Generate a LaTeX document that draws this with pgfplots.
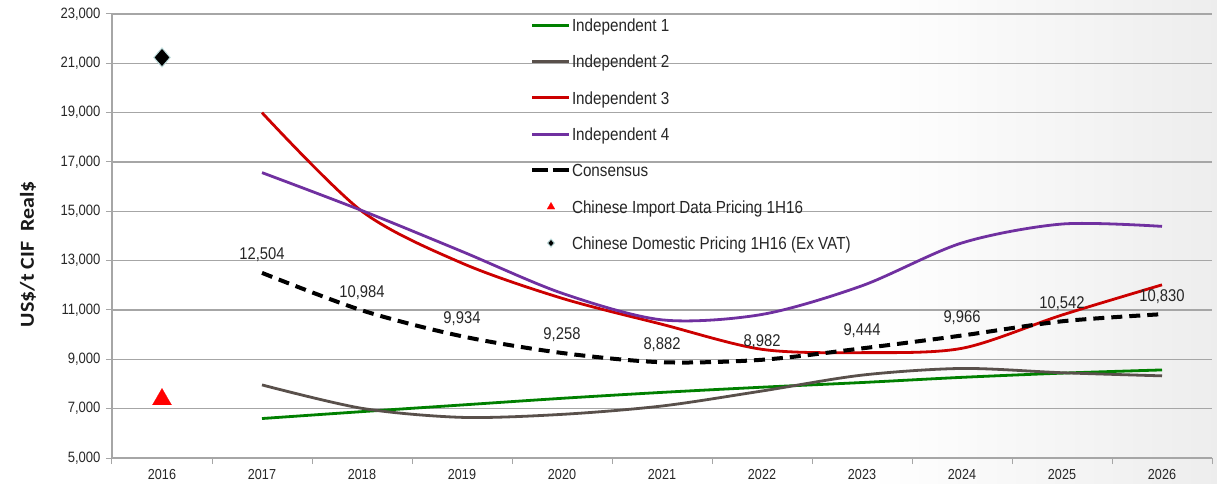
\documentclass[border=0pt]{standalone}
\usepackage{pgfplots}
\pgfplotsset{compat=1.18}
\usepackage{fontspec}
\setmainfont{Liberation Sans}[FakeStretch=0.87]
\newfontfamily\ylabfont{Carlito}
\definecolor{gridgray}{RGB}{166,166,166}
\definecolor{ind1}{RGB}{0,128,0}
\definecolor{ind2}{RGB}{89,80,75}
\definecolor{ind3}{RGB}{204,0,0}
\definecolor{ind4}{RGB}{112,48,160}
\definecolor{txt}{RGB}{38,38,38}
\definecolor{dmdedge}{RGB}{190,220,220}
\pgfplotsset{
  markleg/.style={legend image code/.code={\draw[##1, mark size=#1] plot coordinates {(19pt,0pt)};}},
  dashleg/.style={legend image code/.code={\draw[black, line width=4pt, dash pattern=on 16pt off 4.5pt] (0pt,0pt) -- (37pt,0pt);}},
}
\begin{document}
\begin{tikzpicture}
\shade[left color=white, right color=black!7] (758pt,-26pt) rectangle (1105pt,458pt);
\begin{axis}[
  scale only axis, width=1100pt, height=444pt,
  xmin=-0.5, xmax=10.5, ymin=5000, ymax=23000,
  axis x line*=bottom, axis y line*=left,
  axis line style={draw=gridgray, line width=1.3pt, -},
  xtick={-0.5,0.5,...,10.5},
  x tick label as interval,
  xticklabels={2016,2017,2018,2019,2020,2021,2022,2023,2024,2025,2026},
  ytick={5000,7000,...,23000},
  scaled y ticks=false,
  ymajorgrids, grid style={draw=gridgray, line width=1.3pt},
  tick align=outside, major tick length=6pt,
  tick style={draw=gridgray, line width=1pt},
  xticklabel style={font=\fontsize{14.5}{14.5}\selectfont, text=txt, yshift=-2pt},
  yticklabel style={font=\fontsize{15}{15}\selectfont, text=txt, xshift=-2pt},
  /pgf/number format/.cd, 1000 sep={,}, assume math mode=true, /pgfplots/.cd,
  legend style={at={(rel axis cs:0.3800,0.9887)}, anchor=north west, draw=none, fill=none,
    inner sep=0pt, outer sep=0pt, row sep=23.8pt, column sep=1pt,
    font=\fontsize{17.5}{17.5}\selectfont, text=txt,
    nodes={inner sep=0pt, text height=12.5pt, text depth=0pt}},
  legend cell align=left,
  legend image code/.code={\draw[#1] (0pt,0pt) -- (37pt,0pt);},
]
\addplot[ind1, line width=2.8pt, smooth] coordinates {
 (1,6600) (2,6880) (3,7150) (4,7420) (5,7660) (6,7870) (7,8060) (8,8270) (9,8440) (10,8570)};
\addlegendentry{Independent 1}
\addplot[ind2, line width=2.8pt, smooth] coordinates {
 (1,7963) (2,7013) (3,6647) (4,6769) (5,7108) (6,7716) (7,8360) (8,8630) (9,8457) (10,8330)};
\addlegendentry{Independent 2}
\addplot[ind3, line width=2.8pt, smooth] coordinates {
 (1,19000) (2,15000) (3,12900) (4,11475) (5,10420) (6,9405) (7,9271) (8,9447) (9,10797) (10,12020)};
\addlegendentry{Independent 3}
\addplot[ind4, line width=2.8pt, smooth] coordinates {
 (1,16570) (2,15030) (3,13373) (4,11680) (5,10600) (6,10820) (7,11983) (8,13720) (9,14485) (10,14390)};
\addlegendentry{Independent 4}
\addplot[black, line width=4pt, smooth, dash pattern=on 11pt off 7pt,
  nodes near coords,
  every node near coord/.append style={font=\fontsize{17}{17}\selectfont, text=txt, inner sep=0pt, anchor=base, yshift=13pt, solid},
  dashleg
  ] coordinates {
 (1,12504) (2,10984) (3,9934) (4,9258) (5,8882) (6,8982) (7,9444) (8,9966) (9,10542) (10,10830)};
\addlegendentry{Consensus}
\addplot[only marks, mark=triangle*, mark size=11pt, mark options={fill=red, draw=red, line width=0.1pt},
  markleg=4.5pt
  ] coordinates {(0,7380)};
\addlegendentry{Chinese Import Data Pricing 1H16}
\addplot[only marks, mark=diamond*, mark size=9.5pt, mark options={fill=black, draw=dmdedge, line width=1pt, xscale=1.15},
  markleg=4pt
  ] coordinates {(0,21237)};
\addlegendentry{Chinese Domestic Pricing 1H16 (Ex VAT)}
\end{axis}
\node[rotate=90, text=black!90, font=\ylabfont\bfseries\fontsize{22}{22}\selectfont] at (-84pt,204pt) {\scalebox{1}[0.9]{US\$/t CIF\ \ Real\$}};
\pgfresetboundingbox
\path (-112pt,-26pt) rectangle (1105pt,458pt);
\end{tikzpicture}
\end{document}
